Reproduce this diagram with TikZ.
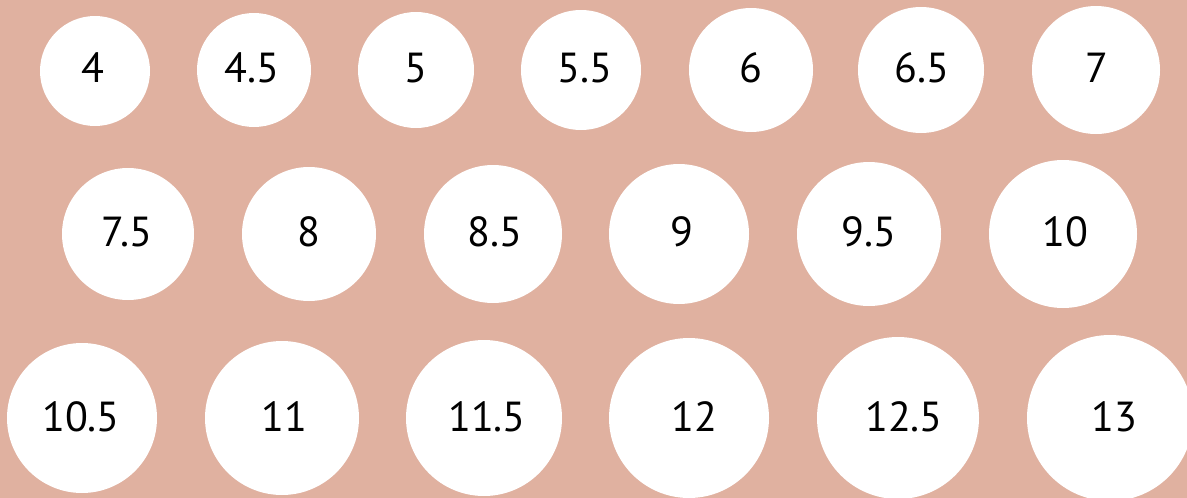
\documentclass[tikz,border=0pt]{standalone}
\usepackage{fontspec}
\setmainfont{PT Sans}
\definecolor{bgpink}{RGB}{224,177,160}
\begin{document}
\begin{tikzpicture}[x=1pt,y=-1pt,
  dot/.style={circle,fill=white,draw=none,inner sep=0pt},
  num/.style={font=\fontsize{42}{42}\selectfont,text=black,inner sep=0pt}]
\useasboundingbox (0,0) rectangle (1187,498);
\fill[bgpink] (0,0) rectangle (1187,498);
\clip (0,0) rectangle (1187,498);
\foreach \n/\cx/\cy/\d/\tx/\ty/\t in {
  a/95/71/110/93/68/4, b/254/70/114/252/68/4.5, c/416/70/116/415.5/68/5,
  d/581/70/120/585/68/5.5, e/751/70/124/751/68/6, f/921/70/126/922/68/6.5,
  g/1096/70/128/1097/68/7,
  h/128/234/132/127/232/7.5, i/309/234/134/309/232/8, j/493/234/138/495/232/8.5,
  k/679/234/140/682/232/9, l/869/234/144/869/232/9.5, m/1063/234/148/1065/232/10,
  n/82/418/150/81/417/10.5, o/282/418/154/284/417/11, p/484/418/156/487/417/11.5,
  q/689/418/160/694/417/12, r/898/418/162/904/417/12.5, s/1110/418/166/1114/417/13}
{
  \node[dot,minimum size=\d pt] (c\n) at (\cx,\cy) {};
  \node[num] (t\n) at (\tx,\ty) {\t};
}
\end{tikzpicture}
\end{document}
